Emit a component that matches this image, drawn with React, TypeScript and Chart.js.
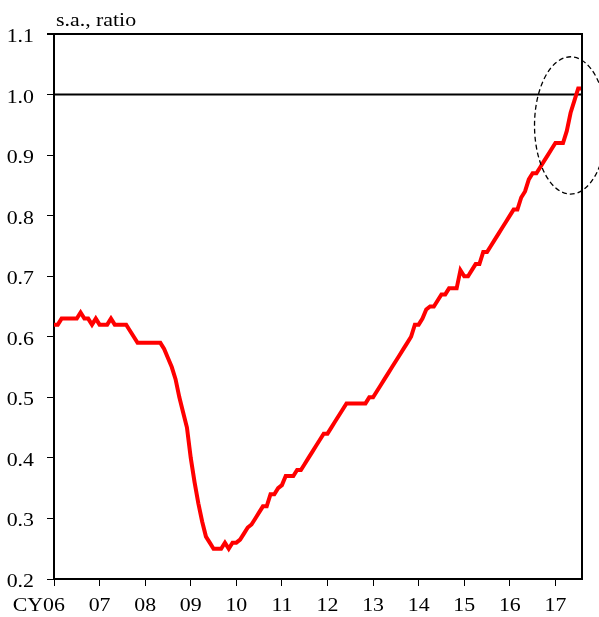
import React, { useEffect, useRef } from 'react';
import { Chart, registerables } from 'chart.js';

Chart.register(...registerables);

// ---- data ----
const yearLabels = ['06', '07', '08', '09', '10', '11', '12', '13', '14', '15', '16', '17'];
const axisPrefix = 'CY';
const titleText = 's.a., ratio';
const yTickValues = [0.2, 0.3, 0.4, 0.5, 0.6, 0.7, 0.8, 0.9, 1.0, 1.1];
const refLineValue = 1.0;
// monthly values, Jan 2006 .. Aug 2017
const ratio = [
  0.62, 0.62, 0.63, 0.63, 0.63, 0.63, 0.63, 0.64, 0.63, 0.63, 0.62, 0.63,
  0.62, 0.62, 0.62, 0.63, 0.62, 0.62, 0.62, 0.62, 0.61, 0.60, 0.59, 0.59,
  0.59, 0.59, 0.59, 0.59, 0.59, 0.58, 0.565, 0.55, 0.53, 0.50, 0.475, 0.45,
  0.40, 0.36, 0.325, 0.295, 0.27, 0.26, 0.25, 0.25, 0.25, 0.26, 0.25, 0.26,
  0.26, 0.265, 0.275, 0.285, 0.29, 0.30, 0.31, 0.32, 0.32, 0.34, 0.34, 0.35,
  0.355, 0.37, 0.37, 0.37, 0.38, 0.38, 0.39, 0.40, 0.41, 0.42, 0.43, 0.44,
  0.44, 0.45, 0.46, 0.47, 0.48, 0.49, 0.49, 0.49, 0.49, 0.49, 0.49, 0.50,
  0.50, 0.51, 0.52, 0.53, 0.54, 0.55, 0.56, 0.57, 0.58, 0.59, 0.60, 0.62,
  0.62, 0.63, 0.645, 0.65, 0.65, 0.66, 0.67, 0.67, 0.68, 0.68, 0.68, 0.71,
  0.70, 0.70, 0.71, 0.72, 0.72, 0.74, 0.74, 0.75, 0.76, 0.77, 0.78, 0.79,
  0.80, 0.81, 0.81, 0.83, 0.84, 0.86, 0.87, 0.87, 0.88, 0.89, 0.90, 0.91,
  0.92, 0.92, 0.92, 0.94, 0.97, 0.99, 1.01, 1.01,
];
// dashed ellipse annotation (centre month index / value, radii)
const highlightCenter = [136, 0.949];
const highlightRadii = [9.5, 0.1134];

const FONT = '19px "Liberation Serif", "Times New Roman", serif';
const SX = 1.15;

function stretchText(ctx: CanvasRenderingContext2D, text: string, x: number, y: number, align: CanvasTextAlign) {
  ctx.save();
  ctx.translate(x, y);
  ctx.scale(SX, 1);
  ctx.textAlign = align;
  ctx.textBaseline = 'alphabetic';
  ctx.fillText(text, 0, 0);
  ctx.restore();
}

const decoPlugin = {
  id: 'deco',
  beforeDatasetsDraw(chart: any) {
    const { ctx, chartArea, scales } = chart;
    const py = scales.y.getPixelForValue(refLineValue);
    ctx.save();
    ctx.strokeStyle = '#000';
    ctx.lineWidth = 2;
    ctx.beginPath();
    ctx.moveTo(chartArea.left, py);
    ctx.lineTo(chartArea.right, py);
    ctx.stroke();
    ctx.restore();
  },
  afterDraw(chart: any) {
    const { ctx, chartArea, scales } = chart;
    const xs = scales.x;
    const ys = scales.y;
    ctx.save();
    // frame top and right
    ctx.strokeStyle = '#000';
    ctx.lineWidth = 2;
    ctx.beginPath();
    ctx.moveTo(chartArea.left - 7, chartArea.top);
    ctx.lineTo(chartArea.right, chartArea.top);
    ctx.lineTo(chartArea.right, chartArea.bottom);
    ctx.stroke();

    // text
    ctx.fillStyle = '#000';
    ctx.font = FONT;
    yTickValues.forEach((v) => {
      const py = ys.getPixelForValue(v);
      stretchText(ctx, v.toFixed(1), chartArea.left - 20, py + 8, 'right');
    });
    const base = xs.top + 32;
    yearLabels.forEach((lab, i) => {
      const px = xs.getPixelForValue(i * 12);
      stretchText(ctx, lab, px, base, 'center');
      if (i === 0) {
        const w = ctx.measureText(lab).width * SX;
        stretchText(ctx, axisPrefix, px - w / 2, base, 'right');
      }
    });
    stretchText(ctx, titleText, chartArea.left + 2, 26, 'left');

    // dashed ellipse
    const cx = xs.getPixelForValue(highlightCenter[0]);
    const cy = ys.getPixelForValue(highlightCenter[1]);
    const rx = Math.abs(xs.getPixelForValue(highlightCenter[0] + highlightRadii[0]) - cx);
    const ry = Math.abs(ys.getPixelForValue(highlightCenter[1] + highlightRadii[1]) - cy);
    ctx.lineWidth = 1.3;
    ctx.setLineDash([5, 3]);
    ctx.beginPath();
    ctx.ellipse(cx, cy, rx, ry, 0, 0, Math.PI * 2);
    ctx.stroke();
    ctx.restore();
  },
};

export default function App() {
  const ref = useRef<HTMLCanvasElement | null>(null);
  useEffect(() => {
    if (!ref.current) return;
    const chart = new Chart(ref.current, {
      type: 'line',
      data: {
        datasets: [
          {
            data: ratio.map((v, i) => ({ x: i, y: v })),
            borderColor: '#FF0000',
            borderWidth: 4,
            pointRadius: 0,
            tension: 0,
            fill: false,
          },
        ],
      },
      options: {
        animation: false,
        responsive: false,
        events: [],
        layout: { padding: { top: 34, right: 17, left: 0, bottom: 0 } },
        plugins: { legend: { display: false }, tooltip: { enabled: false }, title: { display: false } },
        scales: {
          x: {
            type: 'linear',
            min: 0,
            max: ratio.length - 1,
            afterBuildTicks: (s: any) => {
              s.ticks = yearLabels.map((_, i) => ({ value: i * 12 }));
            },
            afterFit: (s: any) => {
              s.height = 38;
            },
            ticks: { display: false },
            grid: { drawOnChartArea: false, drawTicks: true, tickLength: 7, color: '#000', lineWidth: 1 },
            border: { display: true, color: '#000', width: 2 },
          },
          y: {
            type: 'linear',
            min: 0.2,
            max: 1.1,
            afterBuildTicks: (s: any) => {
              s.ticks = yTickValues.map((v) => ({ value: v }));
            },
            afterFit: (s: any) => {
              s.width = 54;
            },
            ticks: { display: false },
            grid: { drawOnChartArea: false, drawTicks: true, tickLength: 7, color: '#000', lineWidth: 1 },
            border: { display: true, color: '#000', width: 2 },
          },
        },
      },
      plugins: [decoPlugin],
    });
    return () => chart.destroy();
  }, []);
  return (
    <div style={{ position: 'fixed', left: 0, top: 0, width: 599, height: 617, background: '#fff' }}>
      <canvas ref={ref} width={599} height={617} style={{ display: 'block' }} />
    </div>
  );
}
